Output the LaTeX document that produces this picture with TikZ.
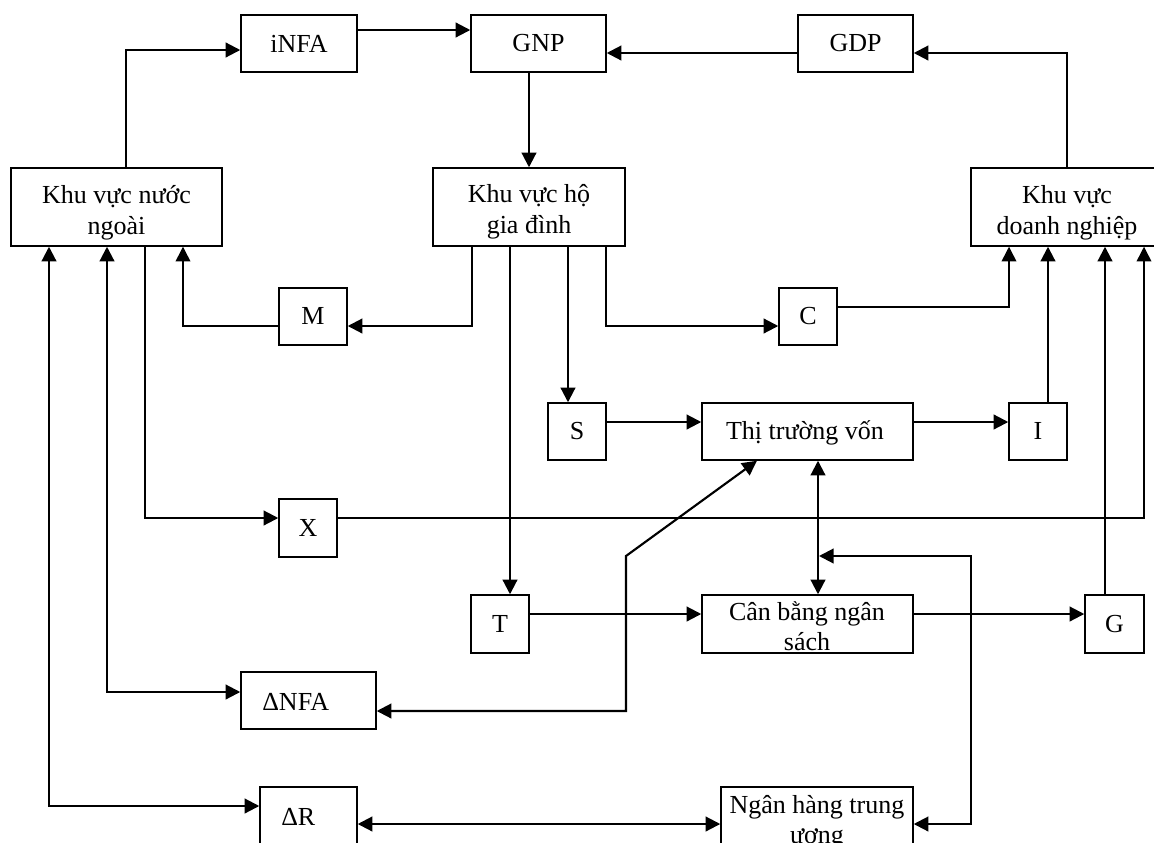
\documentclass[tikz,border=0pt]{standalone}
\usepackage{fontspec}
\setmainfont{Liberation Serif}
\usetikzlibrary{arrows.meta,fit}
\newcommand\mainfs{\fontsize{19.5}{22.5}\selectfont}
\begin{document}
\begin{tikzpicture}[x=0.75pt,y=-0.75pt,
  box/.style={draw, line width=1.1pt, inner sep=0pt},
  txt/.style={inner sep=0pt, font=\mainfs},
  arr/.style={line width=1.6pt, -{Triangle[length=11pt,width=11pt]}},
  tarr/.style={line width=1.1pt, -{Triangle[length=11pt,width=11pt]}},
  darr/.style={line width=1.6pt, {Triangle[length=11pt,width=11pt]}-{Triangle[length=11pt,width=11pt]}}]
\useasboundingbox (0,0) rectangle (1154,843);

% boxes
\node[box, fit={(241,15) (357,72)}] (infa) {};
\node[box, fit={(471,15) (606,72)}] (gnp) {};
\node[box, fit={(798,15) (913,72)}] (gdp) {};
\node[box, fit={(11,168) (222,246)}] (nn) {};
\node[box, fit={(433,168) (625,246)}] (hgd) {};
\node[box, fit={(971,168) (1163,246)}] (dn) {};
\node[box, fit={(279,288) (347,345)}] (m) {};
\node[box, fit={(779,288) (837,345)}] (c) {};
\node[box, fit={(548,403) (606,460)}] (s) {};
\node[box, fit={(702,403) (913,460)}] (ttv) {};
\node[box, fit={(1009,403) (1067,460)}] (i) {};
\node[box, fit={(279,499) (337,557)}] (x) {};
\node[box, fit={(471,595) (529,653)}] (t) {};
\node[box, fit={(702,595) (913,653)}] (cbns) {};
\node[box, fit={(1085,595) (1144,653)}] (g) {};
\node[box, fit={(241,672) (376,729)}] (dnfa) {};
\node[box, fit={(260,787) (357,860)}] (dr) {};
\node[box, fit={(721,787) (913,860)}] (nh) {};

% single-line texts
\node[txt, anchor=base] (infa1) at (299,52) {iNFA};
\node[txt, anchor=base] (gnp1) at (538.5,51) {GNP};
\node[txt, anchor=base] (gdp1) at (855.5,51) {GDP};
\node[txt, anchor=base] (m1) at (313,324) {M};
\node[txt, anchor=base] (c1) at (808,324) {C};
\node[txt, anchor=base] (s1) at (577,439) {S};
\node[txt, anchor=base] (i1) at (1038,439) {I};
\node[txt, anchor=base] (x1) at (308,536) {X};
\node[txt, anchor=base] (t1) at (500,632) {T};
\node[txt, anchor=base] (g1) at (1114.5,632) {G};
\node[txt, anchor=base] (ttv1) at (805,439) {Thị trường vốn};
\node[txt, anchor=base west] (dnfa1) at (262,710) {ΔNFA};
\node[txt, anchor=base west] (dr1) at (281,825) {ΔR};

% two-line texts (clipped to their boxes)
\begin{scope}
\clip (nn.south west) rectangle (nn.north east);
\node[txt, anchor=base] (nn1) at (116.5,203) {Khu vực nước};
\node[txt, anchor=base] (nn2) at (116.5,234) {ngoài};
\end{scope}
\begin{scope}
\clip (hgd.south west) rectangle (hgd.north east);
\node[txt, anchor=base] (hgd1) at (529,202) {Khu vực hộ};
\node[txt, anchor=base] (hgd2) at (529,233) {gia đình};
\end{scope}
\begin{scope}
\clip (dn.south west) rectangle (dn.north east);
\node[txt, anchor=base] (dn1) at (1067,203) {Khu vực};
\node[txt, anchor=base] (dn2) at (1067,234) {doanh nghiệp};
\end{scope}
\begin{scope}
\clip (cbns.south west) rectangle (cbns.north east);
\node[txt, anchor=base] (cb1) at (807,620) {Cân bằng ngân};
\node[txt, anchor=base] (cb2) at (807,650) {sách};
\end{scope}
\node[txt, anchor=base] (nh1) at (817,813) {Ngân hàng trung};
\node[txt, anchor=base] (nh2) at (817,843) {ương};

% coordinates
\coordinate (k1) at (626,556);
\coordinate (k2) at (971,556);
\coordinate (k3) at (819,556);

% connectors
\draw[arr] (126,0 |- nn.north) |- (infa.west |- 0,50);
\draw[arr] (infa.east |- 0,30) -- (gnp.west |- 0,30);
\draw[arr] (gdp.west |- 0,53) -- (gnp.east |- 0,53);
\draw[arr] (1067,0 |- dn.north) |- (gdp.east |- 0,53);
\draw[arr] (529,0 |- gnp.south) -- (529,0 |- hgd.north);
\draw[arr] (472,0 |- hgd.south) |- (m.east |- 0,326);
\draw[tarr] (m.west |- 0,326) -| (183,0 |- nn.south);
\draw[arr] (510,0 |- hgd.south) -- (510,0 |- t.north);
\draw[arr] (568,0 |- hgd.south) -- (568,0 |- s.north);
\draw[arr] (606,0 |- hgd.south) |- (c.west |- 0,326);
\draw[tarr] (c.east |- 0,307) -| (1009,0 |- dn.south);
\draw[arr] (s.east |- 0,422) -- (ttv.west |- 0,422);
\draw[arr] (ttv.east |- 0,422) -- (i.west |- 0,422);
\draw[arr] (1048,0 |- i.north) -- (1048,0 |- dn.south);
\draw[arr] (1105,0 |- g.north) -- (1105,0 |- dn.south);
\draw[tarr] (x.east |- 0,518) -| (1144,0 |- dn.south);
\draw[arr] (145,0 |- nn.south) |- (x.west |- 0,518);
\draw[darr] (49,0 |- nn.south) |- (dr.west |- 0,806);
\draw[darr] (107,0 |- nn.south) |- (dnfa.west |- 0,692);
\draw[darr] (757,0 |- ttv.south) -- (k1) |- (dnfa.east |- 0,711);
\draw[darr] (818,0 |- ttv.south) -- (818,0 |- cbns.north);
\draw[darr] (nh.east |- 0,824) -| (k2) -- (k3);
\draw[arr] (t.east |- 0,614) -- (cbns.west |- 0,614);
\draw[arr] (cbns.east |- 0,614) -- (g.west |- 0,614);
\draw[darr] (dr.east |- 0,824) -- (nh.west |- 0,824);
\end{tikzpicture}
\end{document}
